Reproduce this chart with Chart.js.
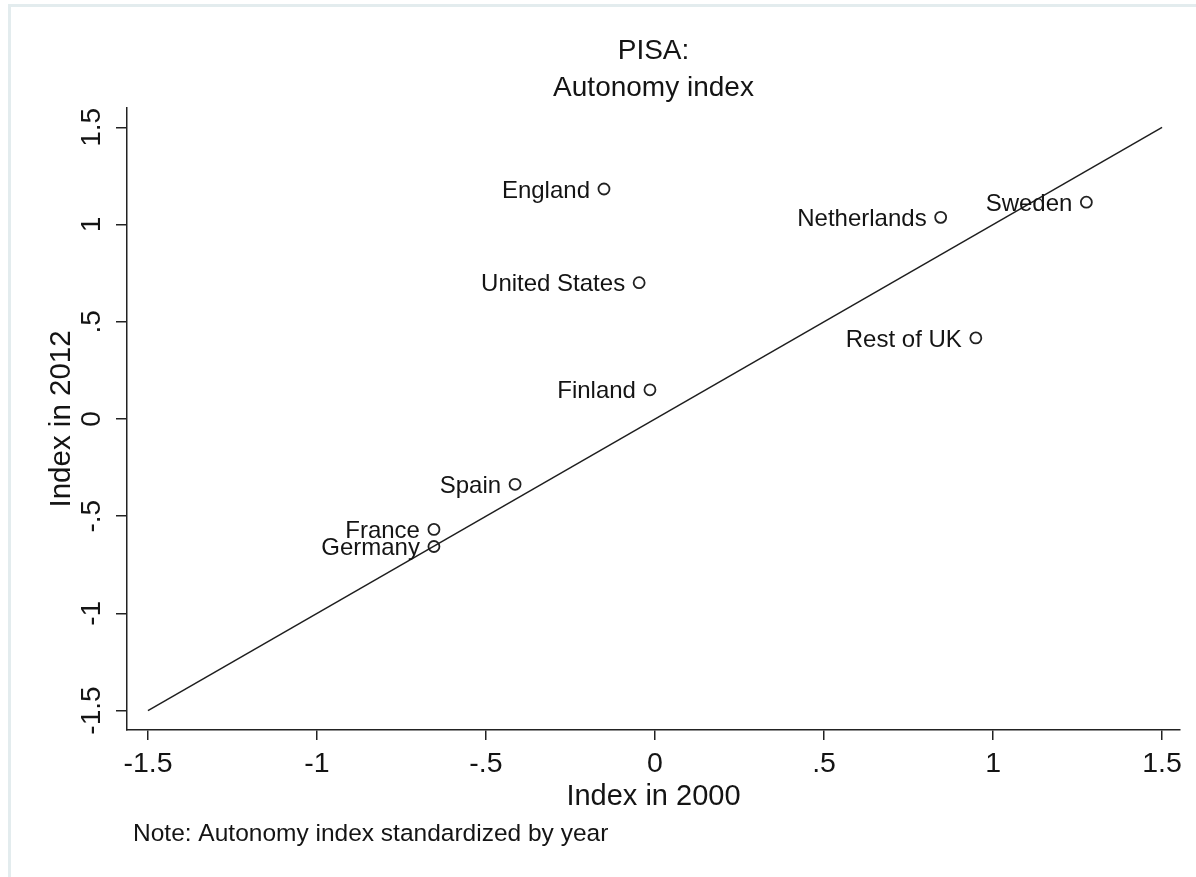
<!DOCTYPE html>
<html>
<head>
<meta charset="utf-8">
<script src="https://cdn.jsdelivr.net/npm/chart.js@4/dist/chart.umd.min.js"></script>
<style>
  html, body { margin: 0; padding: 0; background: #ffffff; }
  #wrap { position: relative; width: 1196px; height: 877px; }
  canvas { display: block; }
</style>
</head>
<body>
<div id="wrap"><canvas id="chart" width="1196" height="877"></canvas></div>
<script>
// PISA school autonomy index, 2000 vs 2012 (standardized by year)
const countries = ['England', 'Netherlands', 'Sweden', 'United States', 'Rest of UK', 'Finland', 'Spain', 'France', 'Germany'];
const index2000 = [-0.151, 0.845, 1.276, -0.047, 0.949, -0.015, -0.414, -0.654, -0.654];
const index2012 = [1.183, 1.037, 1.115, 0.701, 0.417, 0.150, -0.336, -0.568, -0.656];

// 45-degree reference line
const lineX = [-1.5, 1.5];
const lineY = [-1.5, 1.5];

// Axis ticks (Stata-style labels without leading zero)
const tickValues = [-1.5, -1, -0.5, 0, 0.5, 1, 1.5];
const tickLabels = ['-1.5', '-1', '-.5', '0', '.5', '1', '1.5'];

const titleLines = ['PISA:', 'Autonomy index'];
const xTitle = 'Index in 2000';
const yTitle = 'Index in 2012';
const noteText = 'Note: Autonomy index standardized by year';

const FONT = "'Liberation Sans', Arial, sans-serif";
const INK = '#141414';

const scatterPoints = countries.map((c, i) => ({ x: index2000[i], y: index2012[i] }));
const linePoints = lineX.map((x, i) => ({ x: x, y: lineY[i] }));

const setTicks = (scale) => { scale.ticks = tickValues.map(v => ({ value: v })); };
const fmtTick = (value, index) => tickLabels[index];

// Country names to the left of each marker
const pointLabels = {
  id: 'pointLabels',
  afterDatasetsDraw(chart) {
    const meta = chart.getDatasetMeta(1);
    const ctx = chart.ctx;
    const size = 24;
    ctx.save();
    ctx.font = size + 'px ' + FONT;
    ctx.fillStyle = INK;
    ctx.textAlign = 'right';
    ctx.textBaseline = 'alphabetic';
    meta.data.forEach((pt, i) => {
      ctx.fillText(countries[i], pt.x - 14, pt.y + size * 0.36);
    });
    ctx.restore();
  }
};

// Footnote and the thin outer frame
const extras = {
  id: 'extras',
  afterDraw(chart) {
    const ctx = chart.ctx;
    ctx.save();
    ctx.strokeStyle = '#e3ecee';
    ctx.lineWidth = 3;
    ctx.strokeRect(9.5, 5.5, 1200, 900);
    ctx.font = '24.5px ' + FONT;
    ctx.fillStyle = INK;
    ctx.textAlign = 'left';
    ctx.textBaseline = 'alphabetic';
    ctx.fillText(noteText, 133, 841);
    ctx.restore();
  }
};

new Chart(document.getElementById('chart'), {
  type: 'scatter',
  data: {
    datasets: [
      {
        type: 'line',
        data: linePoints,
        borderColor: '#1e1e1e',
        borderWidth: 1.5,
        pointRadius: 0,
        fill: false,
        tension: 0
      },
      {
        data: scatterPoints,
        pointStyle: 'circle',
        pointRadius: 5.5,
        pointBorderWidth: 1.8,
        pointBorderColor: '#222222',
        pointBackgroundColor: 'rgba(255,255,255,0)'
      }
    ]
  },
  options: {
    responsive: false,
    animation: false,
    devicePixelRatio: 1,
    layout: { padding: { left: 0, right: 16, top: 0, bottom: 0 } },
    plugins: {
      legend: { display: false },
      tooltip: { enabled: false },
      title: {
        display: true,
        // span only the plot width so the title is centred over it
        fullSize: false,
        text: titleLines,
        color: INK,
        font: { family: FONT, size: 28, weight: 'normal', lineHeight: 1.32 },
        padding: { top: 33, bottom: 1 }
      }
    },
    scales: {
      x: {
        type: 'linear',
        min: -1.562,
        max: 1.553,
        afterBuildTicks: setTicks,
        afterFit: (scale) => { scale.height = 147; },
        border: { display: true, color: '#222222', width: 1.5 },
        grid: { display: true, drawOnChartArea: false, drawTicks: true, tickLength: 10, color: '#222222', lineWidth: 1.5 },
        ticks: {
          autoSkip: false,
          maxRotation: 0,
          minRotation: 0,
          padding: 7,
          color: INK,
          font: { family: FONT, size: 28.5 },
          callback: fmtTick
        },
        title: {
          display: true,
          text: xTitle,
          color: INK,
          font: { family: FONT, size: 29 },
          padding: { top: 0, bottom: 63 }
        }
      },
      y: {
        type: 'linear',
        min: -1.6,
        max: 1.6,
        afterBuildTicks: setTicks,
        afterFit: (scale) => { scale.width = 127; },
        border: { display: true, color: '#222222', width: 1.5 },
        grid: { display: true, drawOnChartArea: false, drawTicks: true, tickLength: 11, color: '#222222', lineWidth: 1.5 },
        ticks: {
          autoSkip: false,
          minRotation: 90,
          maxRotation: 90,
          crossAlign: 'center',
          padding: 0,
          color: INK,
          font: { family: FONT, size: 28 },
          callback: fmtTick
        },
        title: {
          display: true,
          text: yTitle,
          color: INK,
          font: { family: FONT, size: 29.5 },
          padding: { top: 44, bottom: 0 }
        }
      }
    }
  },
  plugins: [pointLabels, extras]
});
</script>
</body>
</html>
